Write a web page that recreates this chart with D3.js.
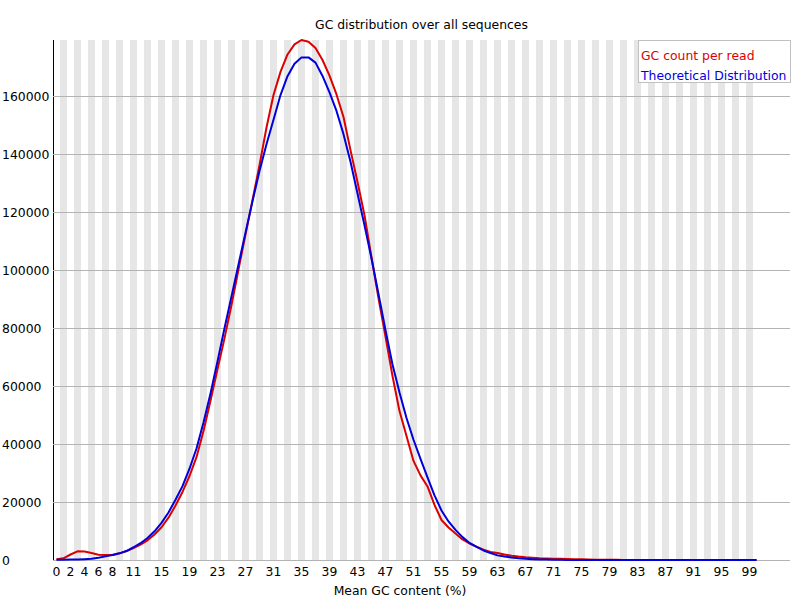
<!DOCTYPE html>
<html>
<head>
<meta charset="utf-8">
<script src="https://cdn.jsdelivr.net/npm/d3@7"></script>
<style>
  body { margin: 0; background: #fff; }
  svg { display: block; }
  text { font-family: "DejaVu Sans", sans-serif; font-size: 12.4px; }
</style>
</head>
<body>
<script>
// ---------------- data ----------------
const categories = d3.range(0, 101);   // GC content 0..100 %
const gcCountPerRead = [
  250, 600, 1900, 3000, 2900, 2400, 1800, 1700, 1700, 2300,
  3100, 4100, 5300, 6800, 8800, 11300, 14600, 18800, 23500, 29000,
  35500, 44500, 55000, 65800, 76500, 88000, 100300, 112300, 124300, 136300,
  149300, 160500, 168500, 174500, 178000, 179500, 178900, 176700, 172600, 167200,
  160700, 152900, 141500, 130500, 119000, 104500, 90300, 77100, 63500, 51400,
  42800, 34200, 29200, 25400, 19000, 13800, 11200, 9150, 7100, 5700,
  4600, 3600, 2750, 2400, 1900, 1500, 1200, 970, 800, 620,
  520, 450, 400, 330, 280, 230, 160, 120, 90, 70,
  55, 40, 35, 30, 25, 20, 18, 15, 12, 10,
  8, 6, 5, 4, 3, 2, 2, 1, 1, 0, 0
];
const theoreticalDistribution = [
  60, 90, 130, 200, 300, 450, 800, 1250, 1700, 2300,
  3100, 4400, 5800, 7600, 9900, 12800, 16400, 20800, 25500, 31500,
  38500, 47500, 57500, 68500, 80000, 91000, 102000, 113000, 123800, 134300,
  143500, 152000, 160500, 167000, 171300, 173500, 173500, 171700, 167100, 161400,
  155000, 147000, 137500, 126500, 115500, 104100, 91800, 79300, 67500, 57800,
  49000, 41500, 34900, 28500, 22300, 17100, 13300, 10400, 7900, 5900,
  4500, 3300, 2400, 1600, 1200, 860, 600, 400, 280, 190,
  130, 90, 60, 40, 25, 15, 10, 8, 6, 5,
  4, 3, 2, 2, 1, 1, 1, 0, 0, 0,
  0, 0, 0, 0, 0, 0, 0, 0, 0, 0, 0
];
const xTickLabels = [0, 2, 4, 6, 8, 11, 15, 19, 23, 27, 31, 35, 39, 43, 47, 51, 55, 59, 63, 67, 71, 75, 79, 83, 87, 91, 95, 99];
const yTickValues = [0, 20000, 40000, 60000, 80000, 100000, 120000, 140000, 160000];
const seriesNames = ["GC count per read", "Theoretical Distribution"];
const titleText = "GC distribution over all sequences";
const xAxisTitle = "Mean GC content (%)";

// ---------------- layout ----------------
const W = 800, H = 600;
const plotLeft = 53, plotTop = 40, plotBottom = H - 40, gridRight = W - 10;
const bandW = 7;
const red = "rgb(220,0,0)", blue = "rgb(0,0,220)";

const svg = d3.select("body").append("svg").attr("width", W).attr("height", H);

const x = d3.scaleBand().domain(categories).range([plotLeft, plotLeft + bandW * categories.length]).padding(0);
const yMax = d3.max([d3.max(gcCountPerRead), d3.max(theoreticalDistribution)]);
const y = d3.scaleLinear().domain([0, yMax]).range([plotBottom, plotTop]);

// stripes
svg.append("g").selectAll("rect")
  .data(categories.filter((d, i) => i % 2 === 1))
  .join("rect")
  .attr("x", d => x(d)).attr("y", plotTop)
  .attr("width", x.bandwidth()).attr("height", plotBottom - plotTop)
  .attr("fill", "rgb(230,230,230)");

// y axis line
svg.append("line").attr("x1", plotLeft + 0.5).attr("x2", plotLeft + 0.5).attr("y1", plotTop).attr("y2", plotBottom)
  .attr("stroke", "#000").attr("stroke-width", 1);

// gridlines + y labels
const yg = svg.append("g");
yTickValues.forEach(v => {
  const yy = Math.round(y(v)) + 0.5;
  yg.append("line").attr("x1", plotLeft).attr("x2", gridRight).attr("y1", yy).attr("y2", yy)
    .attr("stroke", "rgb(180,180,180)").attr("stroke-width", 1);
  yg.append("text").attr("x", 2).attr("y", yy + 4.5).attr("fill", "#000").text(v);
});

// x labels
svg.append("g").selectAll("text")
  .data(xTickLabels)
  .join("text")
  .attr("x", d => x(d) + x.bandwidth() / 2)
  .attr("y", 576)
  .attr("text-anchor", "middle")
  .attr("fill", "#000")
  .text(d => d);

// lines
const line = d3.line()
  .x((d, i) => x(categories[i]) + x.bandwidth() / 2)
  .y(d => y(d));

svg.append("path").datum(gcCountPerRead)
  .attr("d", line).attr("fill", "none").attr("stroke", red).attr("stroke-width", 2)
  .attr("stroke-linejoin", "round");
svg.append("path").datum(theoreticalDistribution)
  .attr("d", line).attr("fill", "none").attr("stroke", blue).attr("stroke-width", 2)
  .attr("stroke-linejoin", "round");

// title & axis title
svg.append("text").attr("x", (plotLeft + gridRight) / 2).attr("y", 29).attr("text-anchor", "middle").text(titleText);
svg.append("text").attr("x", W / 2).attr("y", 595).attr("text-anchor", "middle").text(xAxisTitle);

// legend
const lg = svg.append("g");
const legendTexts = seriesNames.map((n, i) =>
  lg.append("text").attr("y", 60 + i * 20).attr("fill", i === 0 ? red : blue).text(n));
const maxW = d3.max(legendTexts, t => t.node().getComputedTextLength());
const boxW = Math.ceil(maxW) + 6;
const boxX = gridRight - boxW;
lg.insert("rect", "text")
  .attr("x", boxX + 0.5).attr("y", 40.5).attr("width", boxW).attr("height", 42)
  .attr("fill", "#fff").attr("stroke", "rgb(192,192,192)");
legendTexts.forEach(t => t.attr("x", boxX + 3));
</script>
</body>
</html>
